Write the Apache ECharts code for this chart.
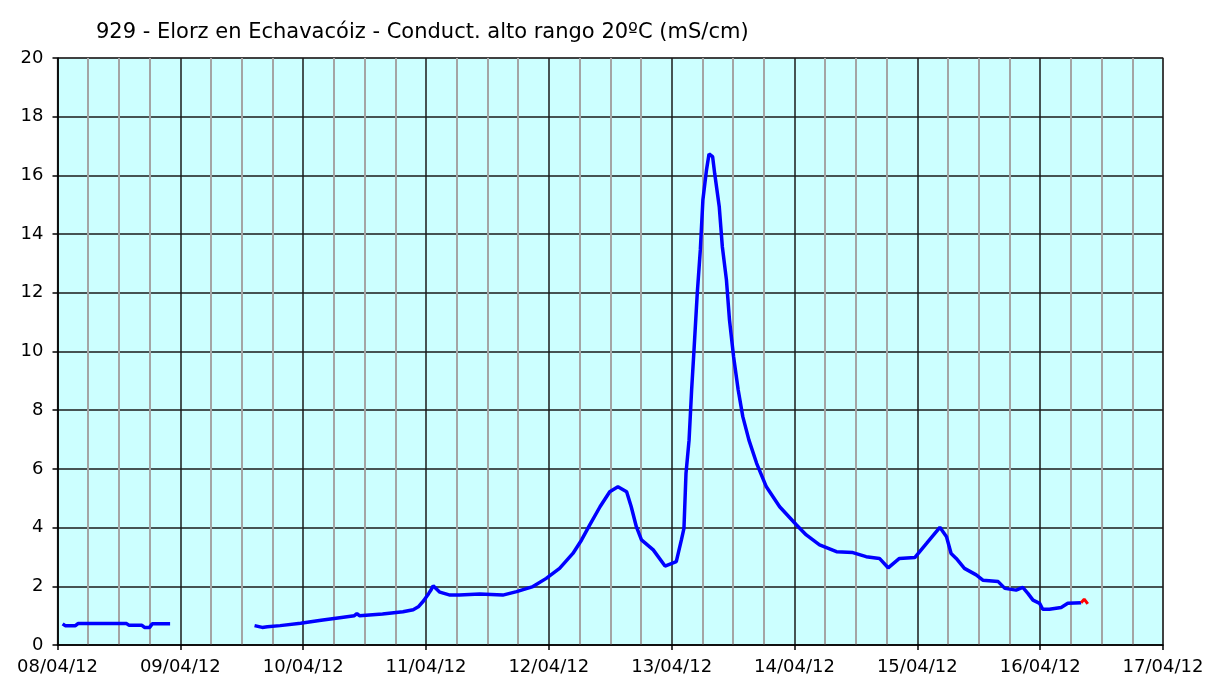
<!DOCTYPE html>
<html>
<head>
<meta charset="utf-8">
<script src="https://cdn.jsdelivr.net/npm/echarts@6/dist/echarts.min.js"></script>
<style>
html,body{margin:0;padding:0;background:#fff;}
#chart{width:1209px;height:680px;}
</style>
</head>
<body>
<div id="chart"></div>
<script>
// Hours since 08/04/12 00:00 and conductivity readings (mS/cm)
const hoursMain = [1.0,1.5,3.5,4.0,13.5,14.0,16.5,17.0,18.0,18.5,22.0,
  30.0,
  38.5,40.0,41.0,43.5,47.5,51.5,55.5,58.0,58.5,59.0,63.5,67.5,69.5,70.5,71.5,72.5,73.0,73.4,
  74.7,76.7,78.5,82.5,87.0,89.7,92.9,95.5,98.1,100.7,102.4,104.0,106.0,107.9,109.5,111.2,112.1,113.1,114.1,116.4,118.7,119.0,
  120.9,121.9,122.4,122.8,123.4,123.9,124.4,125.0,125.6,126.1,126.8,127.3,128.0,128.4,129.3,129.9,130.7,131.3,132.1,133.0,133.9,
  135.1,136.6,138.5,141.1,144.4,146.3,148.9,152.2,155.4,158.0,160.6,162.3,164.5,167.5,169.8,172.4,173.7,174.6,175.6,177.2,179.5,
  180.8,183.8,185.1,187.3,188.6,189.6,190.6,191.9,192.5,193.8,196.1,197.4,200.0];
const valuesMain = [0.72,0.66,0.66,0.73,0.73,0.67,0.67,0.60,0.60,0.72,0.72,
  null,
  0.66,0.60,0.62,0.66,0.74,0.84,0.94,1.00,1.07,1.00,1.06,1.13,1.20,1.30,1.50,1.75,1.88,2.02,
  1.80,1.70,1.70,1.74,1.70,1.82,1.99,2.27,2.61,3.12,3.58,4.09,4.71,5.22,5.39,5.22,4.71,4.03,3.58,3.24,2.69,2.67,
  2.84,3.58,3.97,5.85,6.98,8.69,10.16,11.98,13.46,15.16,16.18,16.73,16.64,16.07,14.93,13.57,12.44,11.07,9.82,8.69,7.78,
  6.98,6.19,5.39,4.71,4.09,3.75,3.41,3.18,3.15,3.01,2.95,2.63,2.95,2.98,3.46,4.01,3.69,3.12,2.95,2.61,2.39,
  2.21,2.16,1.93,1.87,1.96,1.76,1.53,1.42,1.22,1.22,1.28,1.42,1.44];
const hoursLast = [200.0,200.6,201.3];
const valuesLast = [1.44,1.56,1.40];
const xTickLabels = ['08/04/12','09/04/12','10/04/12','11/04/12','12/04/12','13/04/12','14/04/12','15/04/12','16/04/12','17/04/12'];
const titleText = '929 - Elorz en Echavacóiz - Conduct. alto rango 20ºC (mS/cm)';

const FONT = 'DejaVu Sans';
const chart = echarts.init(document.getElementById('chart'), null, {renderer:'canvas'});
chart.setOption({
  animation:false,
  backgroundColor:'#ffffff',
  title:{text:titleText,left:91,top:17,textStyle:{fontFamily:FONT,fontSize:21,fontWeight:'normal',color:'#000'}},
  grid:{left:57.5,right:46,top:58,bottom:35,show:true,backgroundColor:'#ccffff',borderColor:'#a0a0a0',borderWidth:1.5},
  xAxis:{type:'value',min:0,max:216,interval:24,
    axisLine:{show:true,onZero:false,lineStyle:{color:'#000',width:1.5}},
    axisTick:{show:true,length:5,lineStyle:{color:'#000',width:1.5}},
    axisLabel:{fontFamily:FONT,fontSize:18,color:'#000',margin:13,
      formatter:v=>xTickLabels[Math.round(v/24)]||''},
    splitLine:{show:true,lineStyle:{color:'#1a1a1a',width:1.5}},
    minorTick:{show:false,splitNumber:4},
    minorSplitLine:{show:true,lineStyle:{color:'#a4a4a4',width:2}}
  },
  yAxis:{type:'value',min:0,max:20,interval:2,
    axisLine:{show:true,lineStyle:{color:'#000',width:1.5}},
    axisTick:{show:true,length:5,lineStyle:{color:'#000',width:1.5}},
    axisLabel:{fontFamily:FONT,fontSize:18,color:'#000',margin:14},
    splitLine:{show:true,lineStyle:{color:'#1a1a1a',width:1.5}}
  },
  series:[
    {type:'line',data:hoursMain.map((h,i)=>[h,valuesMain[i]]),showSymbol:false,connectNulls:false,
      lineStyle:{color:'#0000ff',width:3.5},itemStyle:{color:'#0000ff'}},
    {type:'line',data:hoursLast.map((h,i)=>[h,valuesLast[i]]),showSymbol:false,
      lineStyle:{color:'#ff0000',width:3},itemStyle:{color:'#ff0000'}}
  ]
});
</script>
</body>
</html>
